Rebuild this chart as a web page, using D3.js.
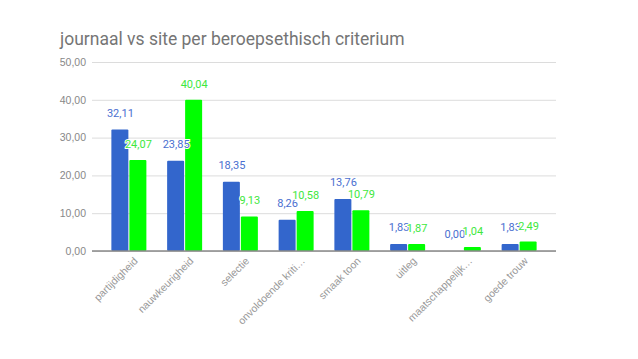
<!DOCTYPE html>
<html><head><meta charset="utf-8">
<script src="https://cdn.jsdelivr.net/npm/d3@7"></script>
<style>body{margin:0;background:#fff}svg{display:block;font-family:Roboto,Arial,sans-serif}</style>
</head><body><svg id="c" width="638" height="359"></svg>
<script>
const categories = ["partijdigheid","nauwkeurigheid","selectie","onvoldoende kriti…","smaak toon","uitleg","maatschappelijk…","goede trouw"];
const journaal = [32.11,23.85,18.35,8.26,13.76,1.83,0.00,1.83];
const site = [24.07,40.04,9.13,10.58,10.79,1.87,1.04,2.49];
const yTicks = [0,10,20,30,40,50];
const title = "journaal vs site per beroepsethisch criterium";
const colors = ["#3366cc","#00ff00"];
const labelColors = ["#4a6fd0","#3ee83e"];

const svg = d3.select("#c");
const fmt = v => v.toFixed(2).replace(".", ",");
const y = d3.scaleLinear().domain([0,50]).range([251,62]);
const x = d3.scaleBand().domain(categories).range([101,547]).padding(0);
const bw = 17;

svg.append("text").attr("x",60).attr("y",45).attr("font-size",17.5).attr("fill","#757575").text(title);

const yAxis = d3.axisLeft(y).tickValues(yTicks).tickFormat(fmt).tickSize(-(556-92));
const gy = svg.append("g").attr("transform","translate(92,0)").call(yAxis);
gy.select(".domain").remove();
gy.selectAll(".tick line").attr("stroke","#dcdcdc");
gy.selectAll(".tick text").attr("fill","#888").attr("font-size",10.5).attr("x",-6);

const groups = svg.append("g").selectAll("g").data(categories).join("g")
  .attr("transform", d => `translate(${x(d)+x.bandwidth()/2},0)`);
[journaal, site].forEach((s,si) => {
  groups.append("rect")
    .attr("x", si===0 ? -bw-0.5 : 0.5)
    .attr("width", bw)
    .attr("y", (d,i) => y(s[i]))
    .attr("height", (d,i) => y(0)-y(s[i]))
    .attr("rx",1)
    .attr("fill", colors[si]);
});
[journaal, site].forEach((s,si) => {
  groups.append("text")
    .attr("x", si===0 ? -bw/2 : bw/2+1)
    .attr("y", (d,i) => y(s[i]) - (si===0?13:12))
    .attr("text-anchor","middle")
    .attr("font-size",11)
    .attr("fill", labelColors[si])
    .attr("stroke","#fff").attr("stroke-width",2).attr("paint-order","stroke")
    .text((d,i) => fmt(s[i]));
});

svg.append("line").attr("x1",92).attr("x2",556).attr("y1",y(0)).attr("y2",y(0)).attr("stroke","#888").attr("stroke-width",1.3);

const xAxis = d3.axisBottom(x).tickSize(0);
const gx = svg.append("g").attr("transform",`translate(0,${y(0)})`).call(xAxis);
gx.select(".domain").remove();
gx.selectAll(".tick text")
  .attr("fill","#999").attr("font-size",10.5)
  .attr("text-anchor","end")
  .attr("transform","translate(7,8) rotate(-45)")
  .attr("dy","0.35em").attr("y",0).attr("x",0);
</script></body></html>
